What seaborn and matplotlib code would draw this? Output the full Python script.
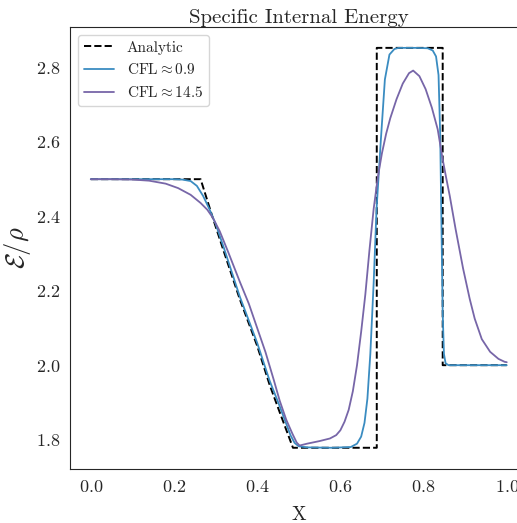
import numpy as np
import pandas as pd
import matplotlib
matplotlib.use("Agg")
import matplotlib.pyplot as plt
import seaborn as sns

# analytic Sod solution (specific internal energy)
x_exact = [0.0, 0.264, 0.293, 0.32, 0.358, 0.40, 0.43, 0.454, 0.486, 0.6875, 0.6875, 0.846, 0.846, 1.0]
e_exact = [2.5, 2.5, 2.397, 2.305, 2.178, 2.052, 1.947, 1.874, 1.778, 1.778, 2.853, 2.853, 2.0, 2.0]

# CFL ~ 0.9 run
x_cfl1 = [0.0, 0.20, 0.22, 0.24, 0.255, 0.27, 0.285, 0.30, 0.32, 0.358, 0.40, 0.43, 0.454,
          0.47, 0.48, 0.49, 0.50, 0.52, 0.58, 0.625, 0.64, 0.65, 0.658, 0.665, 0.672, 0.68,
          0.687, 0.697, 0.707, 0.718, 0.73, 0.74, 0.78, 0.81, 0.822, 0.83, 0.836, 0.840,
          0.843, 0.846, 0.849, 0.853, 0.86, 0.90, 1.0]
e_cfl1 = [2.5, 2.5, 2.499, 2.495, 2.482, 2.455, 2.42, 2.38, 2.315, 2.185, 2.06, 1.958, 1.89,
          1.842, 1.812, 1.791, 1.782, 1.779, 1.778, 1.780, 1.789, 1.808, 1.845, 1.91, 2.03, 2.22,
          2.42, 2.6, 2.768, 2.835, 2.85, 2.853, 2.853, 2.852, 2.846, 2.83, 2.78, 2.62,
          2.38, 2.14, 2.03, 2.005, 2.0, 2.0, 2.0]

# CFL ~ 14.5 run
x_cfl2 = [0.0, 0.05, 0.10, 0.14, 0.18, 0.21, 0.24, 0.264, 0.28, 0.293, 0.31, 0.33, 0.358,
          0.38, 0.40, 0.42, 0.44, 0.454, 0.47, 0.485, 0.495, 0.502, 0.52, 0.55, 0.575,
          0.59, 0.60, 0.61, 0.62, 0.63, 0.64, 0.65, 0.66, 0.67, 0.68, 0.69, 0.70, 0.71,
          0.72, 0.735, 0.75, 0.765, 0.775, 0.79, 0.805, 0.82, 0.834, 0.846, 0.855, 0.863,
          0.877, 0.895, 0.911, 0.923, 0.94, 0.96, 0.98, 0.995, 1.0]
e_cfl2 = [2.5, 2.5, 2.499, 2.496, 2.488, 2.476, 2.458, 2.436, 2.418, 2.397, 2.36, 2.305, 2.225,
          2.165, 2.10, 2.035, 1.96, 1.905, 1.853, 1.815, 1.792, 1.784, 1.789, 1.796, 1.803,
          1.812, 1.825, 1.848, 1.88, 1.93, 2.0, 2.09, 2.19, 2.31, 2.42, 2.505, 2.57, 2.622,
          2.664, 2.715, 2.757, 2.785, 2.792, 2.777, 2.742, 2.692, 2.634, 2.553, 2.50, 2.455,
          2.366, 2.26, 2.178, 2.125, 2.07, 2.036, 2.017, 2.009, 2.008]

sns.set_style("white")
plt.rcParams["font.family"] = "serif"
plt.rcParams["font.serif"] = ["cmr10", "DejaVu Serif"]
plt.rcParams["mathtext.fontset"] = "cm"
plt.rcParams["axes.formatter.use_mathtext"] = True

fig = plt.figure(figsize=(5.17, 5.23), dpi=100)
ax = fig.add_axes([0.1354, 0.1033, 0.885, 0.845])

df1 = pd.DataFrame({"x": x_exact, "e": e_exact})
df2 = pd.DataFrame({"x": x_cfl1, "e": e_cfl1})
df3 = pd.DataFrame({"x": x_cfl2, "e": e_cfl2})

sns.lineplot(data=df1, x="x", y="e", sort=False, estimator=None, ax=ax, color="black",
             lw=1.4, linestyle="--", label="Analytic")
sns.lineplot(data=df2, x="x", y="e", sort=False, estimator=None, ax=ax, color="#3a8cc1",
             lw=1.3, label=r"$\mathrm{CFL}{\approx}0.9$")
sns.lineplot(data=df3, x="x", y="e", sort=False, estimator=None, ax=ax, color="#7766a8",
             lw=1.3, label=r"$\mathrm{CFL}{\approx}14.5$")

ax.set_xlim(-0.05, 1.05)
ax.set_ylim(1.721, 2.909)
ax.set_xticks([0.0, 0.2, 0.4, 0.6, 0.8, 1.0])
ax.set_yticks([1.8, 2.0, 2.2, 2.4, 2.6, 2.8])
ax.tick_params(labelsize=13)
ax.set_title("Specific Internal Energy", fontsize=15, pad=3)
ax.set_xlabel("X", fontsize=14, labelpad=8)
ax.set_ylabel(r"$\mathcal{E}/\rho$", fontsize=19, labelpad=2)
ax.legend(loc="upper left", fontsize=11, frameon=True)

fig.savefig("out.png", dpi=100)
